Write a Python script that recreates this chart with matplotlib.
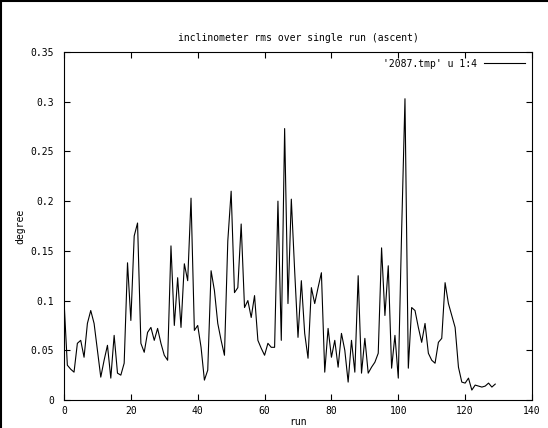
import numpy as np
import matplotlib
matplotlib.use('Agg')
from matplotlib import pyplot as plt
from matplotlib.lines import Line2D

# inclinometer rms, one value per run
runs = list(range(130))
rms = [
    0.100, 0.035, 0.031, 0.028, 0.057, 0.060, 0.043, 0.077, 0.090, 0.077,
    0.050, 0.023, 0.040, 0.055, 0.022, 0.065, 0.027, 0.025, 0.037, 0.138,
    0.080, 0.165, 0.178, 0.057, 0.048, 0.068, 0.073, 0.060, 0.072, 0.057,
    0.045, 0.040, 0.155, 0.075, 0.123, 0.073, 0.137, 0.120, 0.203, 0.070,
    0.075, 0.053, 0.020, 0.030, 0.130, 0.110, 0.077, 0.060, 0.045, 0.160,
    0.210, 0.108, 0.113, 0.177, 0.093, 0.100, 0.083, 0.105, 0.060, 0.052,
    0.045, 0.057, 0.053, 0.053, 0.200, 0.060, 0.273, 0.097, 0.202, 0.130,
    0.063, 0.120, 0.067, 0.042, 0.113, 0.097, 0.113, 0.128, 0.028, 0.072,
    0.043, 0.060, 0.033, 0.067, 0.050, 0.018, 0.060, 0.028, 0.125, 0.027,
    0.062, 0.027, 0.033, 0.038, 0.047, 0.153, 0.085, 0.135, 0.032, 0.065,
    0.022, 0.170, 0.303, 0.032, 0.093, 0.090, 0.073, 0.058, 0.077, 0.047,
    0.040, 0.037, 0.058, 0.062, 0.118, 0.097, 0.085, 0.073, 0.033, 0.018,
    0.017, 0.022, 0.010, 0.015, 0.014, 0.013, 0.014, 0.017, 0.013, 0.016,
]
xticks = [0, 20, 40, 60, 80, 100, 120, 140]
yticks = [0, 0.05, 0.1, 0.15, 0.2, 0.25, 0.3, 0.35]
ytick_labels = ['0', '0.05', '0.1', '0.15', '0.2', '0.25', '0.3', '0.35']

plt.rcParams['font.family'] = 'DejaVu Sans Mono'
fs = 7

fig = plt.figure(figsize=(5.48, 4.28), dpi=100)
ax = fig.add_axes([64/548, 1 - 400/428, (532 - 64)/548, (400 - 52)/428])

ax.plot(runs, rms, color='black', lw=0.8, label="'2087.tmp' u 1:4")
ax.set_xlim(0, 140)
ax.set_ylim(0, 0.35)
ax.set_xticks(xticks)
ax.set_xticklabels([str(t) for t in xticks], fontsize=fs)
ax.set_yticks(yticks)
ax.set_yticklabels(ytick_labels, fontsize=fs)
ax.tick_params(direction='in', length=4, width=0.8, top=True, right=True)
ax.tick_params(axis='x', pad=4)
ax.tick_params(axis='y', pad=7)
for s in ax.spines.values():
    s.set_linewidth(0.8)

ax.set_title('inclinometer rms over single run (ascent)', fontsize=fs, pad=8)
ax.set_xlabel('run', fontsize=fs, labelpad=1)
ax.set_ylabel('degree', fontsize=fs, labelpad=4)

ax.legend(loc='upper right', frameon=False, markerfirst=False, fontsize=fs,
          handlelength=4.2, borderaxespad=0.3, handletextpad=0.8)

# frame lines at the left and top edge of the picture
fig.add_artist(Line2D([0.001, 0.001], [0, 1], transform=fig.transFigure, color='black', lw=1.5))
fig.add_artist(Line2D([0, 1], [0.998, 0.998], transform=fig.transFigure, color='black', lw=1.5))

plt.savefig('out.png', dpi=100)
